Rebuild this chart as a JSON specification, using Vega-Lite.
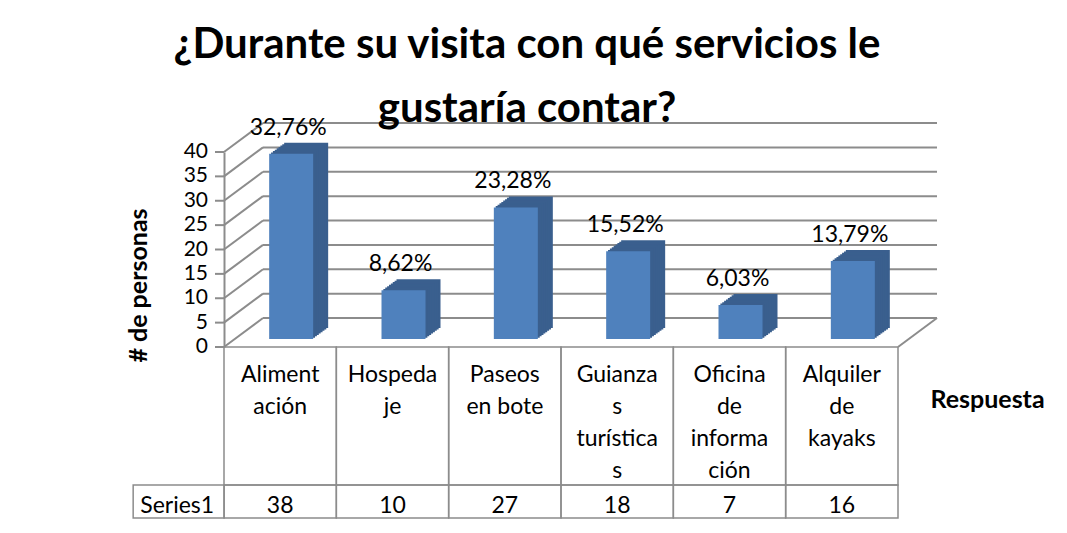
{
  "$schema": "https://vega.github.io/schema/vega-lite/v6.json",
  "width": 674,
  "height": 195,
  "autosize": {"type": "none"},
  "padding": {"left": 224, "top": 152, "right": 169, "bottom": 186},
  "background": "white",
  "title": {
    "text": ["¿Durante su visita con qué servicios le", "gustaría contar?"],
    "font": "Lato",
    "fontSize": 42,
    "fontWeight": "bold",
    "color": "#000000",
    "anchor": "middle",
    "frame": "group",
    "lineHeight": 64,
    "dx": -34,
    "dy": 14,
    "offset": 0
  },
  "datasets": {
    "respuestas": [
      {"respuesta": "Alimentación", "etiqueta": "Aliment\nación", "personas": 38, "porcentaje": "32,76%"},
      {"respuesta": "Hospedaje", "etiqueta": "Hospeda\nje", "personas": 10, "porcentaje": "8,62%"},
      {"respuesta": "Paseos en bote", "etiqueta": "Paseos\nen bote", "personas": 27, "porcentaje": "23,28%"},
      {"respuesta": "Guianzas turísticas", "etiqueta": "Guianza\ns\nturística\ns", "personas": 18, "porcentaje": "15,52%"},
      {"respuesta": "Oficina de información", "etiqueta": "Oficina\nde\ninforma\nción", "personas": 7, "porcentaje": "6,03%"},
      {"respuesta": "Alquiler de kayaks", "etiqueta": "Alquiler\nde\nkayaks", "personas": 16, "porcentaje": "13,79%"}
    ],
    "niveles": [
      {"nivel": 0}, {"nivel": 5}, {"nivel": 10}, {"nivel": 15}, {"nivel": 20},
      {"nivel": 25}, {"nivel": 30}, {"nivel": 35}, {"nivel": 40}
    ]
  },
  "data": {"name": "respuestas"},
  "layer": [
    {
      "data": {"name": "niveles"},
      "mark": {"type": "rule", "color": "#8C8C8C", "strokeWidth": 2, "xOffset": 39, "x2Offset": 39, "yOffset": -29},
      "encoding": {
        "x": {"value": 0},
        "x2": {"value": "width"},
        "y": {
          "field": "nivel",
          "type": "quantitative",
          "scale": {"domain": [0, 40], "nice": false},
          "title": "# de personas"
        }
      }
    },
    {
      "data": {"name": "niveles"},
      "mark": {"type": "rule", "color": "#8C8C8C", "strokeWidth": 2, "x2Offset": 39, "y2Offset": -29},
      "encoding": {
        "x": {"value": 0},
        "x2": {"value": 0},
        "y": {"field": "nivel", "type": "quantitative", "title": "# de personas"},
        "y2": {"field": "nivel"}
      }
    },
    {
      "data": {"name": "niveles"},
      "mark": {"type": "rule", "color": "#8C8C8C", "strokeWidth": 2, "xOffset": -9},
      "encoding": {
        "x": {"value": 0},
        "x2": {"value": 0},
        "y": {"field": "nivel", "type": "quantitative", "title": "# de personas"}
      }
    },
    {
      "data": {"name": "niveles"},
      "mark": {"type": "text", "fontSize": 21, "align": "right", "baseline": "middle", "dx": -16, "color": "#000000"},
      "encoding": {
        "x": {"value": 0},
        "y": {"field": "nivel", "type": "quantitative", "title": "# de personas"},
        "text": {"field": "nivel", "type": "quantitative"}
      }
    },
    {
      "data": {"values": [{}]},
      "mark": {"type": "rule", "color": "#8C8C8C", "strokeWidth": 2, "x2Offset": 39, "y2Offset": -29},
      "encoding": {
        "x": {"value": "width"},
        "x2": {"value": "width"},
        "y": {"datum": 0, "type": "quantitative", "title": "# de personas"},
        "y2": {"datum": 0}
      }
    },
    {
      "mark": {"type": "bar", "width": 44, "color": "#3A5F8E", "xOffset": 26, "yOffset": -19, "y2Offset": -19},
      "encoding": {
        "x": {"field": "respuesta", "type": "nominal", "sort": null, "scale": {"paddingInner": 0, "paddingOuter": 0}, "title": "Respuesta"},
        "y": {"field": "personas", "type": "quantitative", "title": "# de personas"}
      }
    },
    {
      "mark": {"type": "bar", "width": 44, "color": "#3A5F8E", "xOffset": 24.125, "yOffset": -17.625, "y2Offset": -17.625},
      "encoding": {
        "x": {"field": "respuesta", "type": "nominal", "sort": null, "title": "Respuesta"},
        "y": {"field": "personas", "type": "quantitative", "title": "# de personas"}
      }
    },
    {
      "mark": {"type": "bar", "width": 44, "color": "#3A5F8E", "xOffset": 22.25, "yOffset": -16.25, "y2Offset": -16.25},
      "encoding": {
        "x": {"field": "respuesta", "type": "nominal", "sort": null, "title": "Respuesta"},
        "y": {"field": "personas", "type": "quantitative", "title": "# de personas"}
      }
    },
    {
      "mark": {"type": "bar", "width": 44, "color": "#3A5F8E", "xOffset": 20.375, "yOffset": -14.875, "y2Offset": -14.875},
      "encoding": {
        "x": {"field": "respuesta", "type": "nominal", "sort": null, "title": "Respuesta"},
        "y": {"field": "personas", "type": "quantitative", "title": "# de personas"}
      }
    },
    {
      "mark": {"type": "bar", "width": 44, "color": "#3A5F8E", "xOffset": 18.5, "yOffset": -13.5, "y2Offset": -13.5},
      "encoding": {
        "x": {"field": "respuesta", "type": "nominal", "sort": null, "title": "Respuesta"},
        "y": {"field": "personas", "type": "quantitative", "title": "# de personas"}
      }
    },
    {
      "mark": {"type": "bar", "width": 44, "color": "#3A5F8E", "xOffset": 16.625, "yOffset": -12.125, "y2Offset": -12.125},
      "encoding": {
        "x": {"field": "respuesta", "type": "nominal", "sort": null, "title": "Respuesta"},
        "y": {"field": "personas", "type": "quantitative", "title": "# de personas"}
      }
    },
    {
      "mark": {"type": "bar", "width": 44, "color": "#3A5F8E", "xOffset": 14.75, "yOffset": -10.75, "y2Offset": -10.75},
      "encoding": {
        "x": {"field": "respuesta", "type": "nominal", "sort": null, "title": "Respuesta"},
        "y": {"field": "personas", "type": "quantitative", "title": "# de personas"}
      }
    },
    {
      "mark": {"type": "bar", "width": 44, "color": "#3A5F8E", "xOffset": 12.875, "yOffset": -9.375, "y2Offset": -9.375},
      "encoding": {
        "x": {"field": "respuesta", "type": "nominal", "sort": null, "title": "Respuesta"},
        "y": {"field": "personas", "type": "quantitative", "title": "# de personas"}
      }
    },
    {
      "mark": {"type": "bar", "width": 44, "color": "#4F81BD", "xOffset": 11, "yOffset": -8, "y2Offset": -8},
      "encoding": {
        "x": {"field": "respuesta", "type": "nominal", "sort": null, "title": "Respuesta"},
        "y": {"field": "personas", "type": "quantitative", "title": "# de personas"}
      }
    },
    {
      "mark": {"type": "text", "fontSize": 23, "dx": 8, "dy": -27, "baseline": "alphabetic", "color": "#000000"},
      "encoding": {
        "x": {"field": "respuesta", "type": "nominal", "sort": null, "title": "Respuesta"},
        "y": {"field": "personas", "type": "quantitative", "title": "# de personas"},
        "text": {"field": "porcentaje"}
      }
    },
    {
      "mark": {"type": "rect", "fill": "transparent", "stroke": "#8C8C8C", "strokeWidth": 1.5},
      "encoding": {
        "x": {"field": "respuesta", "type": "nominal", "sort": null, "title": "Respuesta"},
        "y": {"datum": 0, "type": "quantitative", "title": "# de personas"},
        "y2": {"datum": -28.31}
      }
    },
    {
      "mark": {"type": "rect", "fill": "transparent", "stroke": "#8C8C8C", "strokeWidth": 1.5},
      "encoding": {
        "x": {"field": "respuesta", "type": "nominal", "sort": null, "title": "Respuesta"},
        "y": {"datum": -28.31, "type": "quantitative", "title": "# de personas"},
        "y2": {"datum": -35.08}
      }
    },
    {
      "data": {"values": [{}]},
      "mark": {"type": "bar", "width": 91, "xOffset": -101.5, "fill": "transparent", "stroke": "#8C8C8C", "strokeWidth": 1.5},
      "encoding": {
        "x": {"datum": "Alimentación", "type": "nominal", "title": "Respuesta"},
        "y": {"datum": -28.31, "type": "quantitative", "title": "# de personas"},
        "y2": {"datum": -35.08}
      }
    },
    {
      "mark": {"type": "text", "fontSize": 23, "baseline": "alphabetic", "align": "center", "lineBreak": "\n", "lineHeight": 32, "color": "#000000"},
      "encoding": {
        "x": {"field": "respuesta", "type": "nominal", "sort": null, "title": "Respuesta"},
        "y": {"datum": -7.18, "type": "quantitative", "title": "# de personas"},
        "text": {"field": "etiqueta"}
      }
    },
    {
      "mark": {"type": "text", "fontSize": 23, "baseline": "alphabetic", "align": "center", "color": "#000000"},
      "encoding": {
        "x": {"field": "respuesta", "type": "nominal", "sort": null, "title": "Respuesta"},
        "y": {"datum": -34.05, "type": "quantitative", "title": "# de personas"},
        "text": {"field": "personas", "type": "quantitative"}
      }
    },
    {
      "data": {"values": [{}]},
      "mark": {"type": "text", "fontSize": 23, "baseline": "alphabetic", "align": "center", "dx": -103, "color": "#000000"},
      "encoding": {
        "x": {"datum": "Alimentación", "type": "nominal", "title": "Respuesta"},
        "y": {"datum": -34.05, "type": "quantitative", "title": "# de personas"},
        "text": {"value": "Series1"}
      }
    }
  ],
  "config": {
    "font": "Lato",
    "view": {"stroke": null},
    "axisY": {
      "grid": false,
      "domainColor": "#8C8C8C",
      "domainWidth": 2,
      "ticks": false,
      "labels": false,
      "titleFontSize": 25,
      "titleFontWeight": "bold",
      "titleColor": "#000000",
      "titleAngle": -90,
      "titleX": -78,
      "titleY": 133,
      "titleAlign": "center",
      "titleBaseline": "alphabetic"
    },
    "axisX": {
      "labels": false,
      "ticks": false,
      "domain": false,
      "grid": false,
      "titleFontSize": 25,
      "titleFontWeight": "bold",
      "titleColor": "#000000",
      "titleX": 763,
      "titleY": 60,
      "titleAlign": "center",
      "titleBaseline": "alphabetic"
    }
  }
}
